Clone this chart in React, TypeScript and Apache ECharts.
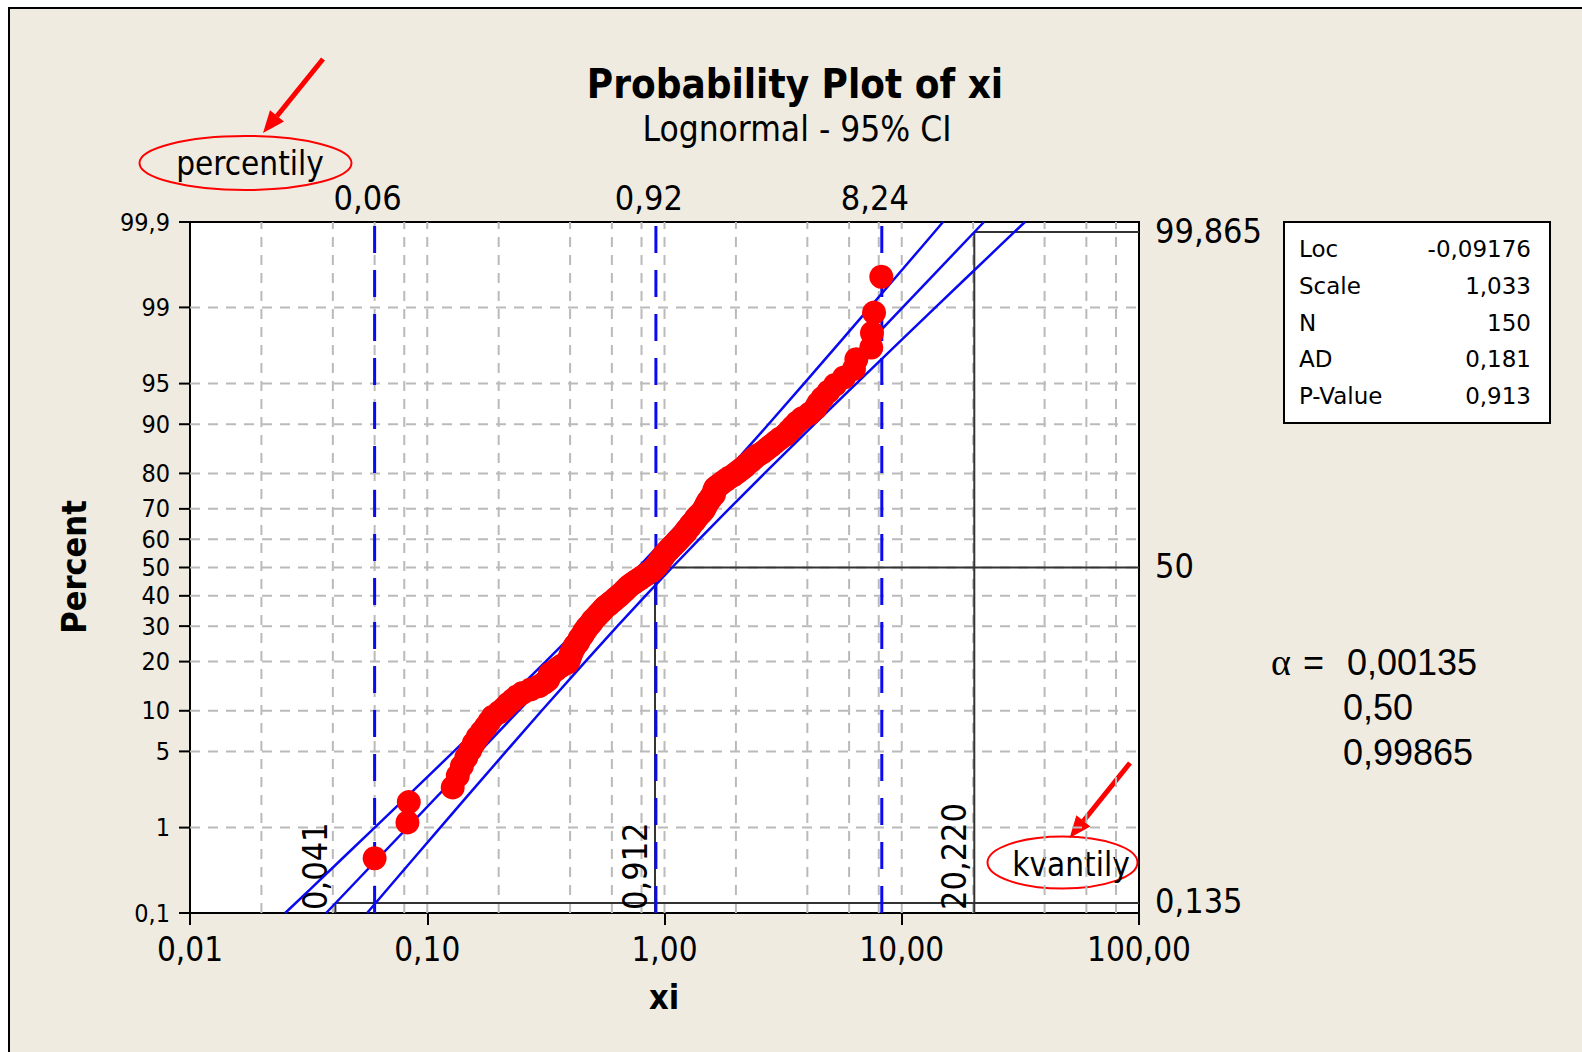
import React, { useEffect, useRef } from "react";
import * as echarts from "echarts";

// ---------------- data ----------------
// sorted sample values xi (N = 150), plotted at median-rank percent positions
const xiValues = [
  0.06, 0.0825, 0.0836, 0.128, 0.1345, 0.14, 0.146, 0.152, 0.157, 0.163,
  0.17, 0.177, 0.183, 0.189, 0.201, 0.211, 0.219, 0.229, 0.239, 0.252,
  0.273, 0.296, 0.311, 0.323, 0.327, 0.329, 0.344, 0.356, 0.37, 0.391,
  0.396, 0.398, 0.403, 0.405, 0.411, 0.416, 0.421, 0.431, 0.436, 0.44,
  0.449, 0.455, 0.459, 0.468, 0.473, 0.483, 0.492, 0.497, 0.507, 0.517,
  0.526, 0.537, 0.546, 0.555, 0.566, 0.583, 0.593, 0.61, 0.621, 0.637,
  0.65, 0.664, 0.677, 0.689, 0.701, 0.716, 0.736, 0.756, 0.777, 0.798,
  0.82, 0.843, 0.865, 0.889, 0.905, 0.92, 0.936, 0.944, 0.959, 0.967,
  0.984, 0.992, 1.01, 1.027, 1.045, 1.063, 1.082, 1.101, 1.121, 1.14,
  1.162, 1.182, 1.203, 1.226, 1.236, 1.259, 1.282, 1.292, 1.317, 1.343,
  1.355, 1.38, 1.408, 1.436, 1.462, 1.478, 1.493, 1.508, 1.525, 1.557,
  1.573, 1.615, 1.619, 1.622, 1.642, 1.695, 1.752, 1.811, 1.873, 1.956,
  2.024, 2.096, 2.171, 2.232, 2.31, 2.385, 2.475, 2.601, 2.706, 2.819,
  2.936, 3.065, 3.234, 3.349, 3.475, 3.614, 3.799, 4.085, 4.316, 4.444,
  4.64, 4.911, 5.23, 5.708, 6.289, 6.436, 7.44, 7.49, 7.64, 8.2,
];

// 95% confidence bands (lower / upper xi at given percent)
const ciPercent = [0.1, 0.2, 0.5, 1, 2, 5, 10, 20, 30, 40, 50, 60, 70, 80, 90, 95, 98, 99, 99.5, 99.8, 99.9];
const ciLower = [0.02519, 0.03208, 0.04521, 0.06003, 0.08173, 0.1295, 0.1943, 0.3155, 0.4449, 0.5938, 0.7732, 1.002, 1.3147, 1.7955, 2.7434, 3.8716, 5.6877, 7.3383, 9.2573, 12.262, 14.929];
const ciUpper = [0.05578, 0.06788, 0.08988, 0.1134, 0.1463, 0.215, 0.3034, 0.4637, 0.633, 0.8307, 1.0763, 1.4022, 1.8709, 2.6383, 4.2855, 6.4301, 10.188, 13.87, 18.403, 25.953, 33.036];

// fitted lognormal line end points
const fitPercent = [0.1, 99.9];
const fitX = [0.03748, 22.21];

// axes / grid
const gridPercents = [1, 5, 10, 20, 30, 40, 50, 60, 70, 80, 90, 95, 99];
const yTickPercents = [0.1, 1, 5, 10, 20, 30, 40, 50, 60, 70, 80, 90, 95, 99, 99.9];
const yTickLabels = ["0,1", "1", "5", "10", "20", "30", "40", "50", "60", "70", "80", "90", "95", "99", "99,9"];
const minorX = [0.02, 0.04, 0.06, 0.08, 0.1, 0.2, 0.4, 0.6, 0.8, 1, 2, 4, 6, 8, 10, 20, 40, 60, 80];

// blue dashed percentile markers
const percentileX = [0.06, 0.92, 8.24];
const percentileLabels = ["0,06", "0,92", "8,24"];

// quantile markers (alpha levels)
const quantileAlpha = [0.00135, 0.5, 0.99865];
const quantileX = [0.041, 0.912, 20.22];
const quantileLabels = ["0,041", "0,912", "20,220"];
const alphaPercentLabels = ["0,135", "50", "99,865"];
const alphaTexts = ["0,00135", "0,50", "0,99865"];

// statistics box
const statNames = ["Loc", "Scale", "N", "AD", "P-Value"];
const statValues = ["-0,09176", "1,033", "150", "0,181", "0,913"];

// ---------------- helpers ----------------
function normInv(p: number): number {
  const a = [-3.969683028665376e1, 2.209460984245205e2, -2.759285104469687e2, 1.38357751867269e2, -3.066479806614716e1, 2.506628277459239];
  const b = [-5.447609879822406e1, 1.615858368580409e2, -1.556989798598866e2, 6.680131188771972e1, -1.328068155288572e1];
  const c = [-7.784894002430293e-3, -3.223964580411365e-1, -2.400758277161838, -2.549732539343734, 4.374664141464968, 2.938163982698783];
  const d = [7.784695709041462e-3, 3.224671290700398e-1, 2.445134137142996, 3.754408661907416];
  const pl = 0.02425;
  if (p < pl) {
    const q = Math.sqrt(-2 * Math.log(p));
    return (((((c[0] * q + c[1]) * q + c[2]) * q + c[3]) * q + c[4]) * q + c[5]) / ((((d[0] * q + d[1]) * q + d[2]) * q + d[3]) * q + 1);
  }
  if (p <= 1 - pl) {
    const q = p - 0.5;
    const r = q * q;
    return ((((((a[0] * r + a[1]) * r + a[2]) * r + a[3]) * r + a[4]) * r + a[5]) * q) / (((((b[0] * r + b[1]) * r + b[2]) * r + b[3]) * r + b[4]) * r + 1);
  }
  const q = Math.sqrt(-2 * Math.log(1 - p));
  return -(((((c[0] * q + c[1]) * q + c[2]) * q + c[3]) * q + c[4]) * q + c[5]) / ((((d[0] * q + d[1]) * q + d[2]) * q + d[3]) * q + 1);
}

const ZMIN = normInv(0.001);
const ZMAX = normInv(0.999);
const FONT = "'DejaVu Sans Condensed', 'DejaVu Sans', sans-serif";
const FONT_WIDE = "'DejaVu Sans', sans-serif";
const ARIAL = "'Liberation Sans', Arial, sans-serif";
const SERIF = "'Liberation Serif', 'DejaVu Serif', serif";
const BLUE = "#0a0af0";
const GRAY = "#bababa";
const DARK = "#333333";

export default function App() {
  const ref = useRef<HTMLDivElement>(null);

  useEffect(() => {
    if (!ref.current) return;
    const chart = echarts.init(ref.current, null, { renderer: "svg" });
    const N = xiValues.length;

    const scatterData = xiValues.map((x, i) => [x, normInv((i + 1 - 0.3) / (N + 0.4))]);
    const lowerData = ciLower.map((x, i) => [x, normInv(ciPercent[i] / 100)]);
    const upperData = ciUpper.map((x, i) => [x, normInv(ciPercent[i] / 100)]);
    const fitData = fitX.map((x, i) => [x, normInv(fitPercent[i] / 100)]);

    const textStyle = (text: string, size: number, extra: any = {}) => ({
      text,
      fill: "#000",
      fontSize: size,
      fontFamily: FONT,
      ...extra,
    });

    const option: any = {
      animation: false,
      backgroundColor: "transparent",
      grid: {
        left: 190,
        top: 222,
        width: 949,
        height: 691,
        show: true,
        backgroundColor: "#ffffff",
        borderColor: "#000",
        borderWidth: 2,
      },
      xAxis: {
        type: "log",
        logBase: 10,
        min: 0.01,
        max: 100,
        splitNumber: 4,
        axisLine: { show: true, onZero: false, lineStyle: { color: "#000", width: 2 } },
        axisTick: { show: true, length: 12, inside: false, lineStyle: { color: "#000", width: 2 } },
        axisLabel: {
          show: true,
          margin: 20,
          color: "#000",
          fontSize: 33,
          fontFamily: FONT,
          formatter: (v: number) => v.toFixed(2).replace(".", ","),
        },
        splitLine: { show: false },
      },
      yAxis: {
        type: "value",
        min: ZMIN,
        max: ZMAX,
        axisLine: { show: true, onZero: false, lineStyle: { color: "#000", width: 2 } },
        axisTick: { show: false },
        axisLabel: { show: false },
        splitLine: { show: false },
      },
      series: [
        // vertical minor gridlines
        {
          type: "custom",
          z: 1,
          clip: false,
          silent: true,
          data: minorX.map((v) => [v, ZMIN]),
          renderItem: (params: any, api: any) => {
            const x = api.value(0);
            const p1 = api.coord([x, ZMIN]);
            const p2 = api.coord([x, ZMAX]);
            return {
              type: "line",
              shape: { x1: p1[0], y1: p1[1], x2: p2[0], y2: p2[1] },
              style: { stroke: GRAY, lineWidth: 2, lineDash: [10, 8] },
            };
          },
        },
        // horizontal gridlines
        {
          type: "custom",
          z: 1,
          clip: false,
          silent: true,
          data: gridPercents.map((p) => [0.01, normInv(p / 100)]),
          renderItem: (params: any, api: any) => {
            const z = api.value(1);
            const p1 = api.coord([0.01, z]);
            const p2 = api.coord([100, z]);
            return {
              type: "line",
              shape: { x1: p1[0], y1: p1[1], x2: p2[0], y2: p2[1] },
              style: { stroke: GRAY, lineWidth: 2, lineDash: [10, 8] },
            };
          },
        },
        // y ticks + labels (probability scale)
        {
          type: "custom",
          z: 3,
          clip: false,
          silent: true,
          data: yTickPercents.map((p) => [0.01, normInv(p / 100)]),
          renderItem: (params: any, api: any) => {
            const p = api.coord([0.01, api.value(1)]);
            return {
              type: "group",
              children: [
                {
                  type: "line",
                  shape: { x1: p[0] - 11, y1: p[1], x2: p[0], y2: p[1] },
                  style: { stroke: "#000", lineWidth: 2 },
                },
                {
                  type: "text",
                  x: p[0] - 20,
                  y: p[1],
                  style: textStyle(yTickLabels[params.dataIndex], 25, { align: "right", verticalAlign: "middle" }),
                },
              ],
            };
          },
        },
        // quantile markers (black)
        {
          type: "custom",
          z: 2,
          clip: false,
          silent: true,
          data: quantileX.map((x, i) => [x, normInv(quantileAlpha[i])]),
          renderItem: (params: any, api: any) => {
            const i = params.dataIndex;
            const x = api.value(0);
            const z = api.value(1);
            const p = api.coord([x, z]);
            const pr = api.coord([100, z]);
            const pb = api.coord([x, ZMIN]);
            return {
              type: "group",
              children: [
                {
                  type: "line",
                  shape: { x1: p[0], y1: p[1], x2: pr[0], y2: pr[1] },
                  style: { stroke: DARK, lineWidth: 2 },
                },
                {
                  type: "line",
                  shape: { x1: p[0], y1: p[1], x2: pb[0], y2: pb[1] },
                  style: { stroke: DARK, lineWidth: 2 },
                },
                {
                  type: "text",
                  x: p[0] - 20,
                  y: pb[1] - 3,
                  rotation: Math.PI / 2,
                  style: textStyle(quantileLabels[i], 34, { align: "left", verticalAlign: "middle" }),
                },
                {
                  type: "text",
                  x: pr[0] + 16,
                  y: pr[1] - 1.5,
                  style: textStyle(alphaPercentLabels[i], 34, { align: "left", verticalAlign: "middle" }),
                },
              ],
            };
          },
        },
        // confidence band lines and fitted line
        {
          type: "line",
          z: 3,
          data: lowerData,
          showSymbol: false,
          symbol: "none",
          silent: true,
          lineStyle: { color: BLUE, width: 2.5 },
        },
        {
          type: "line",
          z: 3,
          data: upperData,
          showSymbol: false,
          symbol: "none",
          silent: true,
          lineStyle: { color: BLUE, width: 2.5 },
        },
        {
          type: "line",
          z: 3,
          data: fitData,
          showSymbol: false,
          symbol: "none",
          silent: true,
          lineStyle: { color: BLUE, width: 2.5 },
        },
        // blue dashed percentile lines
        {
          type: "custom",
          z: 4,
          clip: false,
          silent: true,
          data: percentileX.map((x) => [x, ZMIN]),
          renderItem: (params: any, api: any) => {
            const x = api.value(0);
            const pb = api.coord([x, ZMIN]);
            const pt = api.coord([x, ZMAX]);
            return {
              type: "group",
              children: [
                {
                  type: "line",
                  shape: { x1: pb[0], y1: pb[1], x2: pt[0], y2: pt[1] },
                  style: { stroke: BLUE, lineWidth: 3, lineDash: [27, 17] },
                },
                {
                  type: "text",
                  x: pt[0] - 7,
                  y: pt[1] - 24,
                  style: textStyle(percentileLabels[params.dataIndex], 34, { align: "center", verticalAlign: "middle" }),
                },
              ],
            };
          },
        },
        // data points
        {
          type: "scatter",
          z: 5,
          data: scatterData,
          symbol: "circle",
          symbolSize: 24,
          silent: true,
          itemStyle: { color: "#ff0000", opacity: 1 },
        },
      ],
      graphic: [
        {
          type: "text",
          x: 795,
          y: 84,
          style: textStyle("Probability Plot of xi", 40, { fontWeight: "bold", align: "center", verticalAlign: "middle" }),
        },
        {
          type: "text",
          x: 797,
          y: 129,
          style: textStyle("Lognormal - 95% CI", 35, { align: "center", verticalAlign: "middle" }),
        },
        {
          type: "text",
          x: 74,
          y: 567,
          rotation: Math.PI / 2,
          style: textStyle("Percent", 34, { fontWeight: "bold", align: "center", verticalAlign: "middle" }),
        },
        {
          type: "text",
          x: 664,
          y: 997,
          style: textStyle("xi", 34, { fontWeight: "bold", align: "center", verticalAlign: "middle" }),
        },
        // statistics box
        {
          type: "rect",
          shape: { x: 1284, y: 222, width: 266, height: 201 },
          style: { fill: "#fff", stroke: "#000", lineWidth: 2 },
        },
        ...statNames.map((s, i) => ({
          type: "text",
          x: 1299,
          y: 249 + i * 36.8,
          style: textStyle(s, 23, { fontFamily: FONT_WIDE, align: "left", verticalAlign: "middle" }),
        })),
        ...statValues.map((s, i) => ({
          type: "text",
          x: 1531,
          y: 249 + i * 36.8,
          style: textStyle(s, 23, { fontFamily: FONT_WIDE, align: "right", verticalAlign: "middle" }),
        })),
        // alpha text
        {
          type: "text",
          x: 1271,
          y: 662,
          style: { text: "α", fill: "#000", fontSize: 38, fontFamily: SERIF, align: "left", verticalAlign: "middle" },
        },
        {
          type: "text",
          x: 1303,
          y: 662,
          style: { text: "=", fill: "#000", fontSize: 36, fontFamily: ARIAL, align: "left", verticalAlign: "middle" },
        },
        ...alphaTexts.map((s, i) => ({
          type: "text",
          x: i === 0 ? 1347 : 1343,
          y: 662 + i * 45,
          style: { text: s, fill: "#000", fontSize: 36, fontFamily: ARIAL, align: "left", verticalAlign: "middle" },
        })),
        // percentily annotation
        {
          type: "ellipse",
          shape: { cx: 245.5, cy: 163, rx: 106, ry: 27 },
          style: { fill: "none", stroke: "#ff0000", lineWidth: 2 },
        },
        {
          type: "text",
          x: 250,
          y: 163,
          style: textStyle("percentily", 33, { align: "center", verticalAlign: "middle" }),
        },
        {
          type: "line",
          shape: { x1: 323, y1: 59, x2: 277, y2: 116 },
          style: { stroke: "#ff0000", lineWidth: 5 },
        },
        {
          type: "polygon",
          shape: { points: [[263, 133], [284, 121.6], [270, 110.2]] },
          style: { fill: "#ff0000" },
        },
        // kvantily annotation
        {
          type: "ellipse",
          shape: { cx: 1062.5, cy: 862.5, rx: 75, ry: 26 },
          style: { fill: "none", stroke: "#ff0000", lineWidth: 2 },
        },
        {
          type: "text",
          x: 1071,
          y: 864,
          style: textStyle("kvantily", 33, { align: "center", verticalAlign: "middle" }),
        },
        {
          type: "line",
          shape: { x1: 1130, y1: 763, x2: 1083.4, y2: 821 },
          style: { stroke: "#ff0000", lineWidth: 5 },
        },
        {
          type: "polygon",
          shape: { points: [[1069.6, 838], [1090.4, 826.5], [1076.4, 815.3]] },
          style: { fill: "#ff0000" },
        },
      ],
    };

    chart.setOption(option);
    return () => chart.dispose();
  }, []);

  return (
    <div
      style={{
        position: "absolute",
        left: 0,
        top: 0,
        width: 1582,
        height: 1052,
        overflow: "hidden",
        background: "#ffffff",
      }}
    >
      <div
        style={{
          position: "absolute",
          left: 8,
          top: 7,
          width: 1700,
          height: 1200,
          background: "#efebe1",
          border: "2.5px solid #000",
          boxSizing: "border-box",
        }}
      />
      <div ref={ref} style={{ position: "absolute", left: 0, top: 0, width: 1582, height: 1052 }} />
    </div>
  );
}
